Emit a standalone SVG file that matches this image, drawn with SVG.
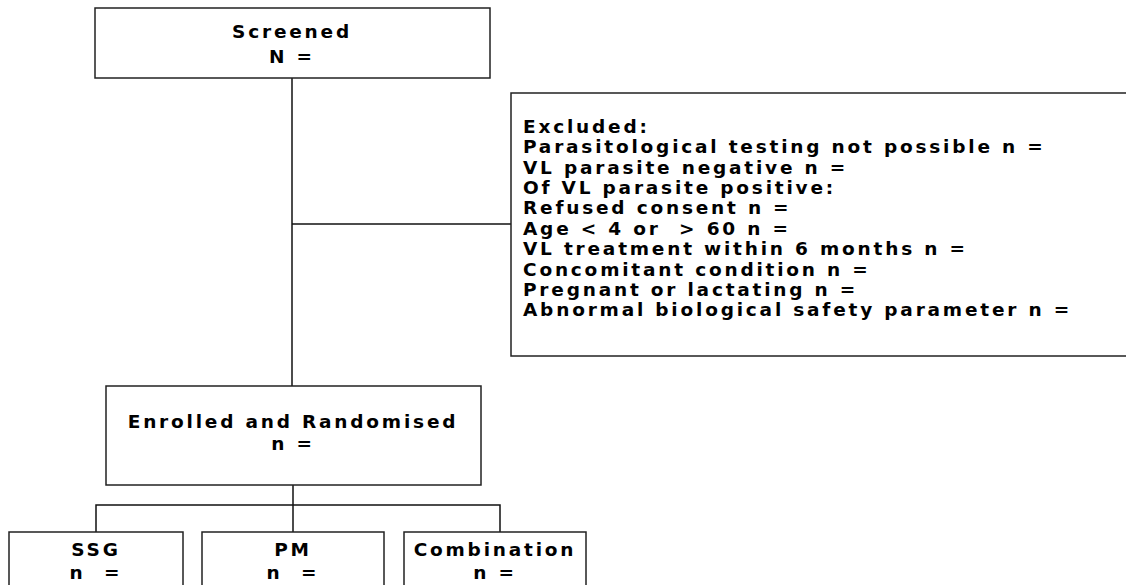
<svg xmlns="http://www.w3.org/2000/svg" width="1126" height="585" viewBox="0 0 1126 585">
<style>
.box{fill:#fff;stroke:#222;stroke-width:1.5}
.ln{stroke:#111;stroke-width:1.5;fill:none}
text{font-family:"DejaVu Sans",Verdana,sans-serif;font-weight:bold;font-size:18.5px;letter-spacing:2.8px;fill:#000}
.c{text-anchor:middle}
</style>
<rect width="1126" height="585" fill="#fff"/>
<g id="connectors">
<line class="ln" x1="292" y1="78" x2="292" y2="386"/>
<line class="ln" x1="292" y1="224" x2="511" y2="224"/>
<line class="ln" x1="293" y1="485" x2="293" y2="532"/>
<polyline class="ln" points="96,532 96,505 500,505 500,532"/>
</g>
<g id="screened">
<rect class="box" x="95" y="8" width="395" height="70"/>
<text class="c" x="292" y="38">Screened</text>
<text class="c" x="292" y="63">N =</text>
</g>
<g id="excluded">
<rect class="box" x="511" y="93" width="640" height="263"/>
<text x="523" y="133">Excluded:</text>
<text x="523" y="153.4">Parasitological testing not possible n =</text>
<text x="523" y="173.7">VL parasite negative n =</text>
<text x="523" y="194.1">Of VL parasite positive:</text>
<text x="523" y="214.4">Refused consent n =</text>
<text x="523" y="234.8" xml:space="preserve">Age &lt; 4 or  &gt; 60 n =</text>
<text x="523" y="255.1">VL treatment within 6 months n =</text>
<text x="523" y="275.5">Concomitant condition n =</text>
<text x="523" y="295.8">Pregnant or lactating n =</text>
<text x="523" y="316.2">Abnormal biological safety parameter n =</text>
</g>
<g id="enrolled">
<rect class="box" x="106" y="386" width="375" height="99"/>
<text class="c" x="293" y="428">Enrolled and Randomised</text>
<text class="c" x="293" y="450">n =</text>
</g>
<g id="ssg">
<rect class="box" x="9" y="532" width="174" height="70"/>
<text class="c" x="96" y="556">SSG</text>
<text class="c" x="96" y="579" xml:space="preserve">n  =</text>
</g>
<g id="pm">
<rect class="box" x="202" y="532" width="182" height="70"/>
<text class="c" x="293" y="556">PM</text>
<text class="c" x="293" y="579" xml:space="preserve">n  =</text>
</g>
<g id="combination">
<rect class="box" x="404" y="532" width="182" height="70"/>
<text class="c" x="495" y="556">Combination</text>
<text class="c" x="495" y="579">n =</text>
</g>
</svg>
